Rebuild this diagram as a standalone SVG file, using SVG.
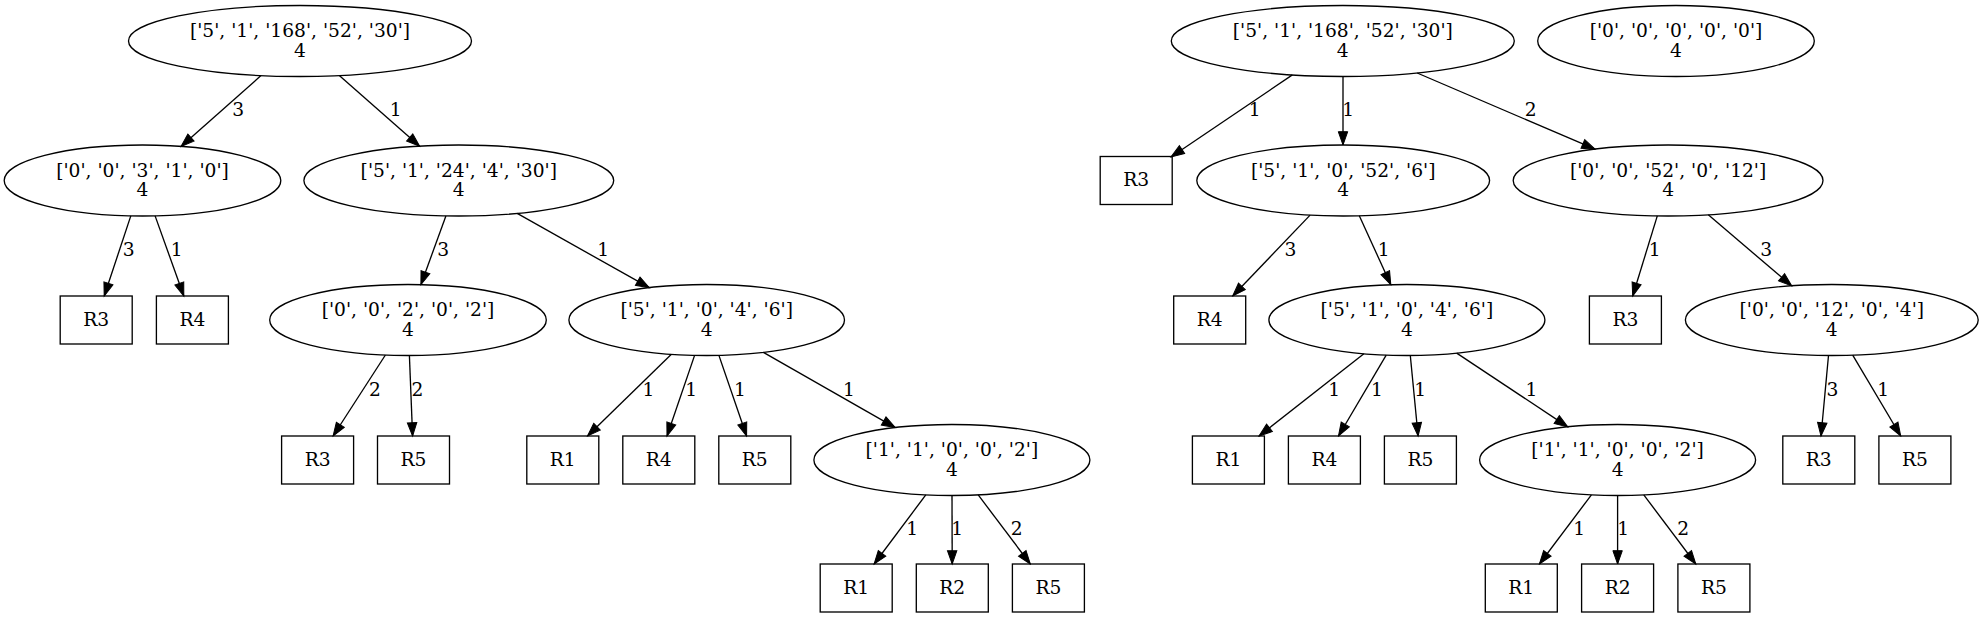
<svg xmlns="http://www.w3.org/2000/svg" width="1984" height="617" viewBox="0 0 1984 617">
<style>
text{font-family:"DejaVu Serif","Liberation Serif",serif;font-size:18.67px;fill:#000;text-anchor:middle}
.n ellipse,.n rect{fill:none;stroke:#000;stroke-width:1.33}
.e line{stroke:#000;stroke-width:1.33;marker-end:url(#ah)}
</style>
<defs>
<marker id="ah" markerUnits="userSpaceOnUse" markerWidth="16" markerHeight="12" viewBox="0 -6 14 12" refX="13.3" refY="0" orient="auto">
<path d="M0,-4.7L13.3,0L0,4.7z" fill="#000" stroke="#000" stroke-width="1"/>
</marker>
</defs>
<rect width="1984" height="617" fill="#fff"/>
<g id="connectors" class="e">
<line x1="261" y1="75.6" x2="181" y2="146.4"/>
<line x1="339.3" y1="75.6" x2="419.7" y2="146.2"/>
<line x1="130.8" y1="215.9" x2="104.2" y2="296"/>
<line x1="155.1" y1="215.9" x2="183.8" y2="296"/>
<line x1="445.9" y1="215.9" x2="420.9" y2="284.7"/>
<line x1="517.2" y1="213.4" x2="649.3" y2="287.7"/>
<line x1="385.4" y1="355" x2="333.1" y2="436"/>
<line x1="409.4" y1="355.5" x2="412.6" y2="436"/>
<line x1="671.4" y1="354.3" x2="587.5" y2="436"/>
<line x1="694.6" y1="355.4" x2="667" y2="436"/>
<line x1="718.9" y1="355.4" x2="746.6" y2="436"/>
<line x1="763.4" y1="352.4" x2="895.2" y2="427.6"/>
<line x1="925.8" y1="494.9" x2="874.1" y2="564"/>
<line x1="952" y1="495.5" x2="952.2" y2="564"/>
<line x1="978.2" y1="494.9" x2="1030.3" y2="564"/>
<line x1="1292.4" y1="74.9" x2="1171" y2="157"/>
<line x1="1343" y1="76.5" x2="1343" y2="145"/>
<line x1="1417.2" y1="73" x2="1595.1" y2="149.2"/>
<line x1="1310.1" y1="215.1" x2="1232.7" y2="296"/>
<line x1="1359.3" y1="215.8" x2="1390.8" y2="284.7"/>
<line x1="1657.3" y1="215.9" x2="1632.7" y2="296"/>
<line x1="1708.3" y1="214.8" x2="1791.7" y2="285.9"/>
<line x1="1363.9" y1="353.7" x2="1259" y2="436"/>
<line x1="1386.2" y1="355.1" x2="1338.5" y2="436"/>
<line x1="1410.3" y1="355.5" x2="1418.1" y2="436"/>
<line x1="1456.7" y1="353.1" x2="1567.8" y2="426.9"/>
<line x1="1828.5" y1="355.5" x2="1821" y2="436"/>
<line x1="1852.7" y1="355.1" x2="1900.7" y2="436"/>
<line x1="1591.4" y1="494.9" x2="1539.4" y2="564"/>
<line x1="1617.6" y1="495.5" x2="1617.6" y2="564"/>
<line x1="1643.8" y1="494.9" x2="1695.8" y2="564"/>
<text x="238.3" y="116">3</text>
<text x="395.7" y="116">1</text>
<text x="128.8" y="256">3</text>
<text x="176.8" y="256">1</text>
<text x="443.2" y="256">3</text>
<text x="603.2" y="256">1</text>
<text x="375" y="395.5">2</text>
<text x="417.5" y="395.5">2</text>
<text x="648.5" y="395.5">1</text>
<text x="691.3" y="395.5">1</text>
<text x="739.9" y="395.5">1</text>
<text x="849" y="395.5">1</text>
<text x="912.1" y="535">1</text>
<text x="957.3" y="535">1</text>
<text x="1016.6" y="535">2</text>
<text x="1254.7" y="116">1</text>
<text x="1348.1" y="116">1</text>
<text x="1530.8" y="116">2</text>
<text x="1290.4" y="256">3</text>
<text x="1383.8" y="256">1</text>
<text x="1654.8" y="256">1</text>
<text x="1766.1" y="256">3</text>
<text x="1334.3" y="395.5">1</text>
<text x="1376.9" y="395.5">1</text>
<text x="1420.2" y="395.5">1</text>
<text x="1531.4" y="395.5">1</text>
<text x="1832.4" y="395.5">3</text>
<text x="1883.1" y="395.5">1</text>
<text x="1579.3" y="535">1</text>
<text x="1623.1" y="535">1</text>
<text x="1683.1" y="535">2</text>
</g>
<g id="L0" class="n"><ellipse cx="300" cy="41" rx="171.5" ry="35.5"/><text x="300" y="37.3">['5', '1', '168', '52', '30']</text><text x="300" y="56.7">4</text></g>
<g id="L1a" class="n"><ellipse cx="142.5" cy="180.5" rx="138.3" ry="35.5"/><text x="142.5" y="176.8">['0', '0', '3', '1', '0']</text><text x="142.5" y="196.2">4</text></g>
<g id="L1b" class="n"><ellipse cx="458.8" cy="180.5" rx="154.9" ry="35.5"/><text x="458.8" y="176.8">['5', '1', '24', '4', '30']</text><text x="458.8" y="196.2">4</text></g>
<g id="L2r3" class="n"><rect x="60.2" y="296" width="72" height="48"/><text x="96.2" y="325.8">R3</text></g>
<g id="L2r4" class="n"><rect x="156.4" y="296" width="72" height="48"/><text x="192.4" y="325.8">R4</text></g>
<g id="L2a" class="n"><ellipse cx="408" cy="320" rx="138.3" ry="35.5"/><text x="408" y="316.3">['0', '0', '2', '0', '2']</text><text x="408" y="335.7">4</text></g>
<g id="L2b" class="n"><ellipse cx="706.7" cy="320" rx="137.8" ry="35.5"/><text x="706.7" y="316.3">['5', '1', '0', '4', '6']</text><text x="706.7" y="335.7">4</text></g>
<g id="L3r3" class="n"><rect x="281.6" y="436" width="72" height="48"/><text x="317.6" y="465.8">R3</text></g>
<g id="L3r5a" class="n"><rect x="377.5" y="436" width="72" height="48"/><text x="413.5" y="465.8">R5</text></g>
<g id="L3r1" class="n"><rect x="526.8" y="436" width="72" height="48"/><text x="562.8" y="465.8">R1</text></g>
<g id="L3r4" class="n"><rect x="622.8" y="436" width="72" height="48"/><text x="658.8" y="465.8">R4</text></g>
<g id="L3r5b" class="n"><rect x="718.8" y="436" width="72" height="48"/><text x="754.8" y="465.8">R5</text></g>
<g id="L3e" class="n"><ellipse cx="951.9" cy="460" rx="138" ry="35.5"/><text x="951.9" y="456.3">['1', '1', '0', '0', '2']</text><text x="951.9" y="475.7">4</text></g>
<g id="L4r1" class="n"><rect x="820.2" y="564" width="72" height="48"/><text x="856.2" y="593.8">R1</text></g>
<g id="L4r2" class="n"><rect x="916.3" y="564" width="72" height="48"/><text x="952.3" y="593.8">R2</text></g>
<g id="L4r5" class="n"><rect x="1012.4" y="564" width="72" height="48"/><text x="1048.4" y="593.8">R5</text></g>
<g id="R0" class="n"><ellipse cx="1342.8" cy="41" rx="171.5" ry="35.5"/><text x="1342.8" y="37.3">['5', '1', '168', '52', '30']</text><text x="1342.8" y="56.7">4</text></g>
<g id="Z" class="n"><ellipse cx="1676" cy="41" rx="138.3" ry="35.5"/><text x="1676" y="37.3">['0', '0', '0', '0', '0']</text><text x="1676" y="56.7">4</text></g>
<g id="R1r3" class="n"><rect x="1100.2" y="156.5" width="72" height="48"/><text x="1136.2" y="186.3">R3</text></g>
<g id="R1f" class="n"><ellipse cx="1343.2" cy="180.5" rx="146.4" ry="35.5"/><text x="1343.2" y="176.8">['5', '1', '0', '52', '6']</text><text x="1343.2" y="196.2">4</text></g>
<g id="R1g" class="n"><ellipse cx="1668.1" cy="180.5" rx="154.9" ry="35.5"/><text x="1668.1" y="176.8">['0', '0', '52', '0', '12']</text><text x="1668.1" y="196.2">4</text></g>
<g id="R2r4" class="n"><rect x="1173.7" y="296" width="72" height="48"/><text x="1209.7" y="325.8">R4</text></g>
<g id="R2h" class="n"><ellipse cx="1406.9" cy="320" rx="138" ry="35.5"/><text x="1406.9" y="316.3">['5', '1', '0', '4', '6']</text><text x="1406.9" y="335.7">4</text></g>
<g id="R2r3" class="n"><rect x="1589.4" y="296" width="72" height="48"/><text x="1625.4" y="325.8">R3</text></g>
<g id="R2i" class="n"><ellipse cx="1831.8" cy="320" rx="146.4" ry="35.5"/><text x="1831.8" y="316.3">['0', '0', '12', '0', '4']</text><text x="1831.8" y="335.7">4</text></g>
<g id="R3r1" class="n"><rect x="1192.4" y="436" width="72" height="48"/><text x="1228.4" y="465.8">R1</text></g>
<g id="R3r4" class="n"><rect x="1288.4" y="436" width="72" height="48"/><text x="1324.4" y="465.8">R4</text></g>
<g id="R3r5a" class="n"><rect x="1384.4" y="436" width="72" height="48"/><text x="1420.4" y="465.8">R5</text></g>
<g id="R3j" class="n"><ellipse cx="1617.6" cy="460" rx="138" ry="35.5"/><text x="1617.6" y="456.3">['1', '1', '0', '0', '2']</text><text x="1617.6" y="475.7">4</text></g>
<g id="R3r3" class="n"><rect x="1782.8" y="436" width="72" height="48"/><text x="1818.8" y="465.8">R3</text></g>
<g id="R3r5b" class="n"><rect x="1878.9" y="436" width="72" height="48"/><text x="1914.9" y="465.8">R5</text></g>
<g id="R4r1" class="n"><rect x="1485.3" y="564" width="72" height="48"/><text x="1521.3" y="593.8">R1</text></g>
<g id="R4r2" class="n"><rect x="1581.6" y="564" width="72" height="48"/><text x="1617.6" y="593.8">R2</text></g>
<g id="R4r5" class="n"><rect x="1677.9" y="564" width="72" height="48"/><text x="1713.9" y="593.8">R5</text></g>
</svg>
